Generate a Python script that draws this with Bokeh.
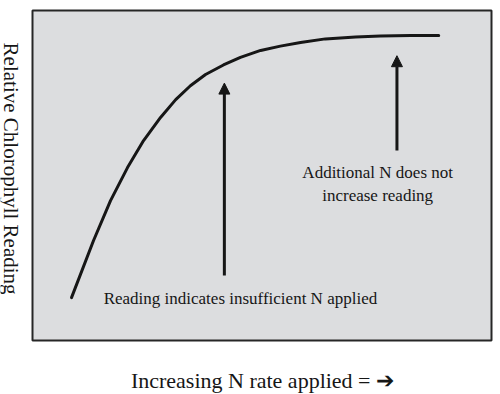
import math
from bokeh.plotting import figure
from bokeh.models import Range1d, Label, Arrow, NormalHead, BoxAnnotation
from bokeh.embed import file_html
from bokeh.resources import INLINE

# Curve (relative N rate, relative chlorophyll reading; 0-100 scale)
n_rate = [8.5, 13.3, 17.0, 20.7, 24.2, 27.9, 31.2, 34.4, 37.7, 41.6, 45.3, 49.7,
          54.0, 58.4, 63.8, 70.4, 75.8, 82.4, 88.5]
reading = [13.0, 30.3, 42.4, 52.4, 60.6, 67.6, 73.0, 77.2, 80.6, 83.5, 85.8, 87.9,
           89.2, 90.3, 91.4, 92.0, 92.3, 92.4, 92.4]

# Annotation arrows: (x, y_start, y_end)
arrow_x = [41.8, 79.4]
arrow_y0 = [19.7, 57.6]
arrow_y1 = [78.0, 86.3]

notes = ["Reading indicates insufficient N applied", "Additional N does not", "increase reading"]
x_title = "Increasing N rate applied = \u2794"
y_title = "Relative Chlorophyll Reading"

ink = "#161616"
serif = "Liberation Serif"

# canvas ranges chosen so that the plotting panel spans 0..100 on both axes
p = figure(width=500, height=394, output_backend="svg", toolbar_location=None,
           x_range=Range1d(-32 / 459 * 100, 468 / 459 * 100),
           y_range=Range1d(-54 / 330 * 100, 340 / 330 * 100))
p.min_border = 0
p.min_border_left = 0
p.min_border_right = 0
p.min_border_top = 0
p.min_border_bottom = 0
p.axis.visible = False
p.grid.visible = False
p.background_fill_color = "white"
p.border_fill_color = "white"
p.outline_line_color = None

p.add_layout(BoxAnnotation(left=0, right=100, bottom=0, top=100,
                           fill_color="#dcdddf", fill_alpha=1.0,
                           line_color="#262626", line_width=2, line_alpha=1.0,
                           level="underlay"))

p.line(n_rate, reading, line_width=3, line_color=ink, line_join="round", line_cap="round")

for xa, ya0, ya1 in zip(arrow_x, arrow_y0, arrow_y1):
    p.add_layout(Arrow(end=NormalHead(size=11, fill_color=ink, line_color=ink, line_width=1),
                       x_start=xa, y_start=ya0, x_end=xa, y_end=ya1,
                       line_width=3, line_color=ink))

for txt, xx, yy in [(notes[0], 45.3, 12.7), (notes[1], 75.2, 50.9), (notes[2], 75.2, 43.9)]:
    p.add_layout(Label(x=xx, y=yy, text=txt, text_font=serif, text_font_size="17px",
                       text_color=ink, text_align="center", text_baseline="alphabetic"))

p.add_layout(Label(x=50.1, y=-12.1, text=x_title, text_font=serif, text_font_size="22px",
                   text_color=ink, text_align="center", text_baseline="alphabetic"))
p.add_layout(Label(x=-4.6, y=52.1, text=y_title, text_font=serif, text_font_size="21px",
                   text_color=ink, text_align="center", text_baseline="middle",
                   angle=-math.pi / 2))

open("out.html", "w").write(file_html(p, INLINE))
